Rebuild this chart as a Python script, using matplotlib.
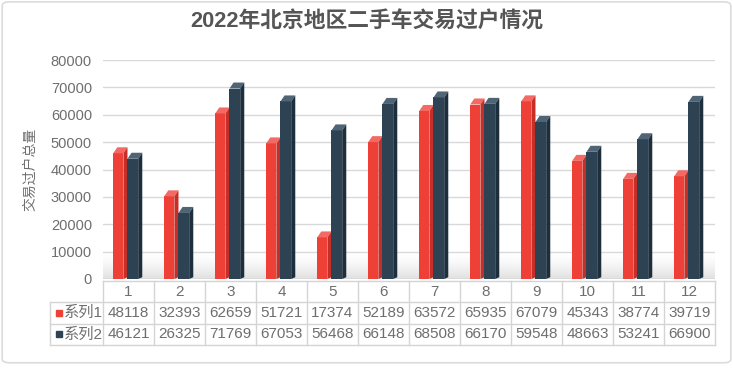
import numpy as np
import matplotlib.pyplot as plt
from matplotlib.patches import Polygon, FancyBboxPatch

plt.rcParams['font.family'] = ['Liberation Sans', 'Noto Sans CJK SC', 'DejaVu Sans']

# data
months = ['1', '2', '3', '4', '5', '6', '7', '8', '9', '10', '11', '12']
series1 = [48118, 32393, 62659, 51721, 17374, 52189, 63572, 65935, 67079, 45343, 38774, 39719]
series2 = [46121, 26325, 71769, 67053, 56468, 66148, 68508, 66170, 59548, 48663, 53241, 66900]
names = ['系列1', '系列2']

red = ['#ee4036', '#f26a63', '#c52f27']      # front, top, side
navy = ['#2d4353', '#4f6474', '#1d2f3c']
gray_txt = '#6e6e6e'
grid_c = '#d9d9d9'

fig = plt.figure(figsize=(7.33, 3.74), dpi=100)

# outer frame
frame = FancyBboxPatch((0.003, 0.03), 0.994, 0.965, boxstyle='round,pad=0,rounding_size=0.01',
                       transform=fig.transFigure, fill=False, ec='#dcdcdc', lw=1.2)
fig.patches.append(frame)

fig.text(0.5, 0.94, '2022年北京地区二手车交易过户情况', ha='center', va='center',
         fontsize=15.7, fontweight='bold', color='#555555')

ax = fig.add_axes([103 / 733, 1 - 279 / 374, 612 / 733, 219 / 374])
x = np.arange(len(months))
ax.set_xlim(-0.5, len(months) - 0.5)
ax.set_ylim(0, 80000)
ax.set_yticks(np.arange(0, 80001, 10000))
ax.set_xticks([])
ax.tick_params(axis='y', length=0, labelsize=10.5, labelcolor=gray_txt, pad=8)
for s in ax.spines.values():
    s.set_visible(False)
ax.grid(axis='y', color=grid_c, lw=1)
ax.set_axisbelow(True)
ax.set_ylabel('交易过户总量', fontsize=10, color=gray_txt, labelpad=10)

# floor shadow
grad = np.linspace(0, 1, 100).reshape(-1, 1)
ax.imshow(grad, extent=(-0.5, 11.5, 0, 9000), aspect='auto', origin='lower',
          cmap='Greys_r', vmin=-1.2, vmax=1.0, alpha=0.35, zorder=1)

dx, dy = 0.08, 2200


def bar3d(xs, vals, w, cols):
    for xi, v in zip(xs, vals):
        ax.add_patch(Polygon([(xi, 0), (xi + w, 0), (xi + w, v - dy), (xi, v - dy)],
                             closed=True, fc=cols[0], ec='none', zorder=3))
        ax.add_patch(Polygon([(xi, v - dy), (xi + w, v - dy), (xi + w + dx, v), (xi + dx, v)],
                             closed=True, fc=cols[1], ec='none', zorder=3))
        ax.add_patch(Polygon([(xi + w, 0), (xi + w + dx, dy * 0.3), (xi + w + dx, v), (xi + w, v - dy)],
                             closed=True, fc=cols[2], ec='none', zorder=3))


bar3d(x - 0.30, series1, 0.20, red)
bar3d(x - 0.02, series2, 0.21, navy)

# data table
tax = fig.add_axes([103 / 733, 1 - 345 / 374, 612 / 733, 64 / 374])
tax.set_xlim(-0.5, len(months) - 0.5)
tax.set_ylim(0, 3)
tax.axis('off')
lc = '#d4d4d4'
left = -0.5 - 53 / 51
tax.plot([-0.5, 11.5], [3, 3], color=lc, lw=1, clip_on=False)
for yy in [2, 1, 0]:
    tax.plot([left, 11.5], [yy, yy], color=lc, lw=1, clip_on=False)
for i in range(13):
    tax.plot([-0.5 + i, -0.5 + i], [0, 3], color=lc, lw=1, clip_on=False)
tax.plot([left, left], [0, 2], color=lc, lw=1, clip_on=False)

for i, m in enumerate(months):
    tax.text(i, 2.5, m, ha='center', va='center', fontsize=11, color=gray_txt)
    tax.text(i, 1.5, str(series1[i]), ha='center', va='center', fontsize=11, color=gray_txt)
    tax.text(i, 0.5, str(series2[i]), ha='center', va='center', fontsize=11, color=gray_txt)

for yy, nm, c in [(1.5, names[0], red[0]), (0.5, names[1], navy[0])]:
    tax.plot([left + 0.17], [yy], marker='s', ms=5, color=c, clip_on=False)
    tax.text(left + 0.27, yy, nm, ha='left', va='center', fontsize=11, color=gray_txt)

fig.savefig('out.png', dpi=100)
